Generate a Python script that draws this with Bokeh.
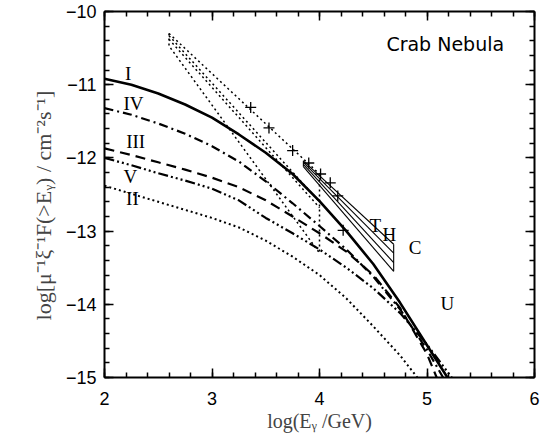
import numpy as np
from bokeh.plotting import figure
from bokeh.models import LinearAxis, Range1d, FixedTicker, CustomJSTickFormatter
from bokeh.embed import file_html
from bokeh.resources import INLINE
from bokeh.core.properties import value

# ---------------- data ----------------
x_I = [2.0, 2.25, 2.5, 2.75, 3.0, 3.25, 3.5, 3.75, 4.0, 4.25, 4.5, 4.75, 5.0, 5.19]
y_I = [-10.92, -11.00, -11.12, -11.27, -11.45, -11.68, -11.93, -12.22, -12.59, -13.00, -13.45, -13.98, -14.56, -15.0]

x_IV = [2.0, 2.25, 2.5, 2.75, 3.0, 3.25, 3.5, 3.75, 4.0, 4.25, 4.5, 4.75, 5.0, 5.15]
y_IV = [-11.32, -11.41, -11.53, -11.67, -11.84, -12.05, -12.32, -12.62, -12.93, -13.25, -13.62, -14.07, -14.62, -15.0]

x_III = [2.0, 2.25, 2.5, 2.75, 3.0, 3.25, 3.5, 3.75, 4.0, 4.25, 4.5, 4.75, 5.0, 5.09]
y_III = [-11.87, -11.96, -12.06, -12.16, -12.27, -12.40, -12.58, -12.80, -13.03, -13.28, -13.60, -14.05, -14.68, -15.0]

x_V = [2.0, 2.25, 2.5, 2.75, 3.0, 3.25, 3.5, 3.75, 4.0, 4.25, 4.5, 4.75, 5.0, 5.23]
y_V = [-12.00, -12.10, -12.21, -12.31, -12.42, -12.58, -12.82, -13.03, -13.25, -13.50, -13.78, -14.12, -14.55, -15.0]

x_II = [2.0, 2.25, 2.5, 2.75, 3.0, 3.25, 3.5, 3.75, 4.0, 4.25, 4.5, 4.75, 4.91]
y_II = [-12.38, -12.49, -12.60, -12.71, -12.82, -12.95, -13.13, -13.35, -13.60, -13.92, -14.30, -14.70, -15.0]

# Whipple-type data points (+)
x_pts = [3.36, 3.53, 3.75, 3.90, 4.01, 4.10, 4.17, 4.22]
y_pts = [-11.31, -11.59, -11.90, -12.07, -12.22, -12.34, -12.52, -12.99]

# dotted bow-tie region
bow_x = [[2.60, 4.00], [2.60, 4.00], [2.60, 4.00], [2.60, 2.60, 4.00, 4.00]]
bow_y = [[-10.30, -12.22], [-10.33, -12.60], [-10.38, -12.68], [-10.30, -10.47, -13.30, -12.22]]

# hatched (solid thin) region
hat_x = [[3.85, 4.69], [3.85, 4.69], [3.85, 4.69], [3.85, 4.69], [3.85, 3.85], [4.69, 4.69]]
hat_y = [[-12.04, -13.18], [-12.06, -13.30], [-12.09, -13.43], [-12.12, -13.55],
         [-12.04, -12.12], [-13.18, -13.55]]

# curve labels
lab_text = ["I", "IV", "III", "V", "II", "T", "H", "C", "U"]
lab_x = [2.22, 2.27, 2.29, 2.24, 2.26, 4.52, 4.65, 4.89, 5.19]
lab_y = [-10.85, -11.25, -11.77, -12.25, -12.55, -12.93, -13.04, -13.23, -13.99]

x_ticks = [2, 3, 4, 5, 6]
y_ticks = [-15, -14, -13, -12, -11, -10]
y_tick_labels = {-15: "\u221215", -14: "\u221214", -13: "\u221213", -12: "\u221212", -11: "\u221211", -10: "\u221210"}

# ---------------- figure ----------------
p = figure(width=540, height=435, x_range=Range1d(2, 6), y_range=Range1d(-15, -10),
           output_backend="svg", toolbar_location=None,
           min_border_left=104, min_border_right=6, min_border_top=11, min_border_bottom=58)
p.grid.visible = False
p.outline_line_color = None
p.background_fill_color = "white"
p.border_fill_color = "white"

serif = "Liberation Serif"
sans = "Liberation Sans"

def style_axis(ax, ticks, minor):
    ax.ticker = FixedTicker(ticks=ticks, minor_ticks=minor)
    ax.axis_line_width = 2
    ax.axis_line_color = "black"
    ax.major_tick_in = 9
    ax.major_tick_out = 0
    ax.minor_tick_in = 5
    ax.minor_tick_out = 0
    ax.major_tick_line_width = 1.5
    ax.minor_tick_line_width = 1.5
    ax.major_tick_line_color = "black"
    ax.minor_tick_line_color = "black"

x_minor = [round(2 + 0.2 * i, 2) for i in range(21)]
y_minor = [round(-15 + 0.2 * i, 2) for i in range(26)]

xa = p.xaxis[0]
style_axis(xa, x_ticks, x_minor)
xa.major_label_text_font = sans
xa.major_label_text_font_size = "18px"
xa.major_label_text_color = "black"
xa.major_label_standoff = 14
xa.axis_label = "log(E\u1d67 /GeV)"
xa.axis_label_text_font = serif
xa.axis_label_text_font_style = "normal"
xa.axis_label_text_font_size = "20px"
xa.axis_label_standoff = 2

ya = p.yaxis[0]
style_axis(ya, y_ticks, y_minor)
ya.major_label_overrides = y_tick_labels
ya.major_label_text_font = sans
ya.major_label_text_font_size = "18px"
ya.major_label_text_color = "black"
ya.major_label_standoff = 8
ya.axis_label = "log[\u03bc\u207b\u00b9\u03be\u207b\u00b9F(>E\u1d67)   /   cm\u207b\u00b2s\u207b\u00b9]"
ya.axis_label_text_font = serif
ya.axis_label_text_font_style = "normal"
ya.axis_label_text_font_size = "22px"
ya.axis_label_standoff = 7

blank = CustomJSTickFormatter(code="return ''")
for loc, ticks, minor in (("above", x_ticks, x_minor), ("right", y_ticks, y_minor)):
    ax = LinearAxis(formatter=blank, major_label_standoff=0)
    style_axis(ax, ticks, minor)
    p.add_layout(ax, loc)

# ---------------- curves ----------------
p.line(x_I, y_I, line_color="black", line_width=2.6)
p.line(x_IV, y_IV, line_color="black", line_width=2.2, line_dash="9 4 2 4")
p.line(x_III, y_III, line_color="black", line_width=2.2, line_dash="10 6")
p.line(x_V, y_V, line_color="black", line_width=2.2, line_dash="10 3 2 3 2 3 2 3")
p.line(x_II, y_II, line_color="black", line_width=2.0, line_dash="2 3")

for bx, by in zip(bow_x, bow_y):
    p.line(bx, by, line_color="black", line_width=1.5, line_dash="2 3")
for hx, hy in zip(hat_x, hat_y):
    p.line(hx, hy, line_color="black", line_width=1.1)
p.scatter(x_pts, y_pts, marker="cross", size=11, line_color="black", line_width=1.3)

p.text(lab_x, lab_y, text=lab_text, text_font=value(serif), text_font_size="19px",
       text_align="center", text_baseline="middle", text_color="black")
p.text([5.17], [-10.44], text=["Crab Nebula"], text_font=value("DejaVu Sans"), text_font_size="19px",
       text_align="center", text_baseline="middle", text_color="black")

open("out.html", "w").write(file_html(p, INLINE))
